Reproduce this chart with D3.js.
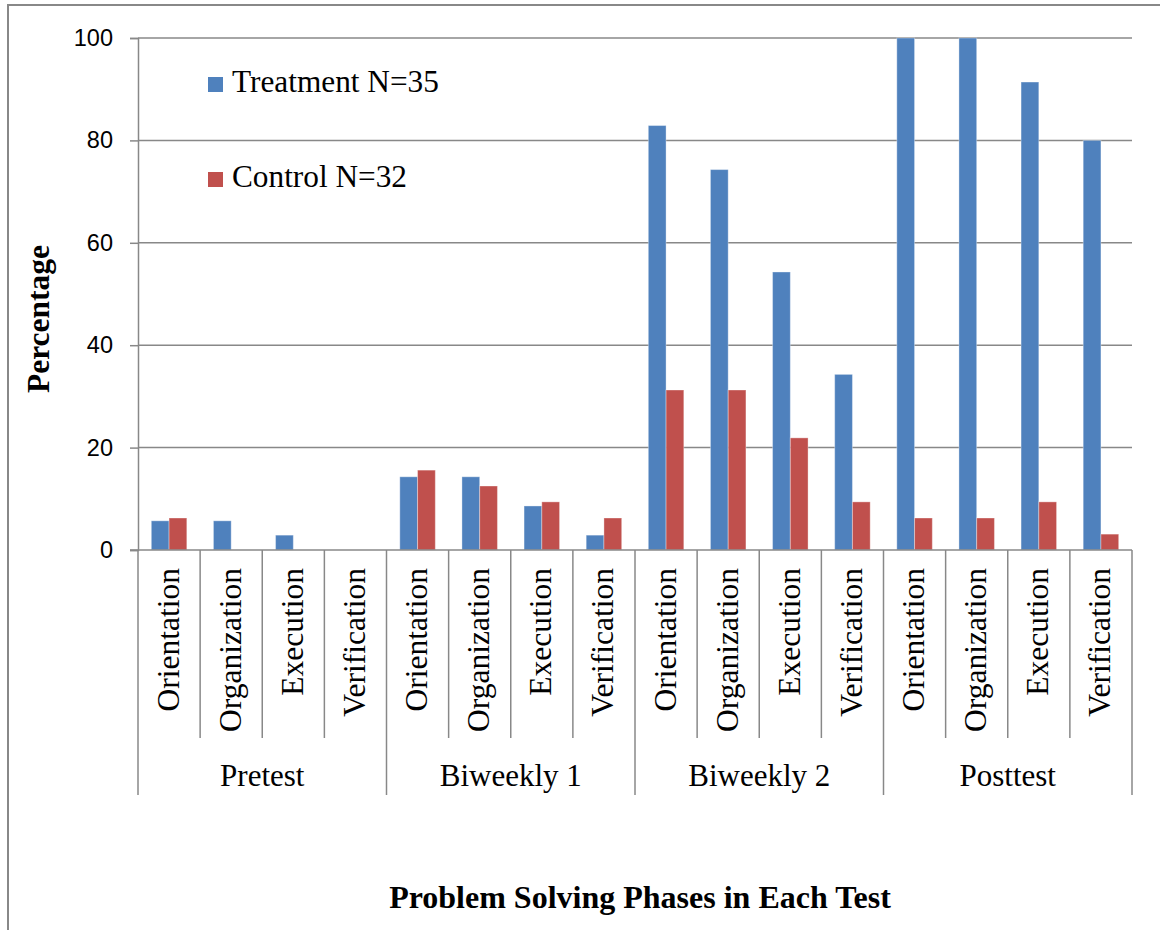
<!DOCTYPE html>
<html>
<head>
<meta charset="utf-8">
<script src="https://cdn.jsdelivr.net/npm/d3@7/dist/d3.min.js"></script>
<style>
  html, body { margin: 0; padding: 0; background: #fff; }
  svg { display: block; }
</style>
</head>
<body>
<svg id="chart" width="1160" height="930"></svg>
<script>
// Test sessions and the problem solving phases scored in each
const tests = ["Pretest", "Biweekly 1", "Biweekly 2", "Posttest"];
const phases = ["Orientation", "Organization", "Execution", "Verification"];
const seriesNames = ["Treatment N=35", "Control N=32"];

// Percentage of students per phase, in test order (4 phases per test)
const treatment = [5.7, 5.7, 2.9, 0, 14.3, 14.3, 8.6, 2.9, 82.9, 74.3, 54.3, 34.3, 100, 100, 91.4, 80];
const control = [6.25, 0, 0, 0, 15.6, 12.5, 9.4, 6.25, 31.25, 31.25, 21.9, 9.4, 6.25, 6.25, 9.4, 3.1];

const yTicks = [0, 20, 40, 60, 80, 100];
const colors = ["#4F81BD", "#C0504D"];

const svg = d3.select("#chart");
const plot = { left: 138, right: 1132, top: 38, bottom: 550 };
const catLineEnd = 738, groupLineEnd = 795;
const gridColor = "#888888";
const serif = "'Liberation Serif', 'Times New Roman', serif";
const sans = "'Liberation Sans', Arial, sans-serif";

// One band per test/phase pair
const rows = [];
tests.forEach((t, gi) => phases.forEach((p, pi) => {
  const i = gi * phases.length + pi;
  rows.push({ key: t + "|" + p, test: t, phase: p, values: [treatment[i], control[i]] });
}));

const x = d3.scaleBand().domain(rows.map(d => d.key)).range([plot.left, plot.right]).paddingInner(0).paddingOuter(0);
const xs = d3.scaleBand().domain(d3.range(seriesNames.length)).range([0, x.bandwidth()])
  .paddingInner(0).paddingOuter(0.75);
const y = d3.scaleLinear().domain([0, 100]).range([plot.bottom, plot.top]);

// Outer chart frame
svg.append("path").attr("d", "M8,930 L8,5 L1160,5")
  .attr("fill", "none").attr("stroke", gridColor).attr("stroke-width", 2);

// Horizontal gridlines
svg.append("g").selectAll("line").data(yTicks.filter(v => v > 0)).join("line")
  .attr("x1", plot.left).attr("x2", plot.right)
  .attr("y1", d => y(d)).attr("y2", d => y(d))
  .attr("stroke", gridColor).attr("stroke-width", 1.5);

// Y axis
const yAxis = svg.append("g").attr("transform", `translate(${plot.left},0)`)
  .call(d3.axisLeft(y).tickValues(yTicks).tickSize(8).tickPadding(17).tickFormat(d3.format("d")));
yAxis.select(".domain").attr("stroke", gridColor).attr("stroke-width", 1.5);
yAxis.selectAll(".tick line").attr("stroke", gridColor).attr("stroke-width", 1.5);
yAxis.selectAll(".tick text").attr("font-family", sans).attr("font-size", 23.5).attr("fill", "#000");

// Bars
svg.append("g").selectAll("g").data(rows).join("g")
  .attr("transform", d => `translate(${x(d.key)},0)`)
  .selectAll("rect").data(d => d.values.map((v, s) => ({ v, s }))).join("rect")
  .attr("x", d => xs(d.s)).attr("width", xs.bandwidth())
  .attr("y", d => y(d.v)).attr("height", d => y(0) - y(d.v))
  .attr("fill", d => colors[d.s])
  .attr("stroke", "rgba(255,255,255,0.35)").attr("stroke-width", 1);

// X axis baseline
svg.append("line").attr("x1", plot.left - 8).attr("x2", plot.right).attr("y1", plot.bottom).attr("y2", plot.bottom)
  .attr("stroke", gridColor).attr("stroke-width", 1.5);

// Category and group separators
const bounds = d3.range(rows.length + 1);
svg.append("g").selectAll("line").data(bounds).join("line")
  .attr("x1", i => plot.left + i * x.step()).attr("x2", i => plot.left + i * x.step())
  .attr("y1", plot.bottom)
  .attr("y2", i => i % phases.length === 0 ? groupLineEnd : catLineEnd)
  .attr("stroke", gridColor).attr("stroke-width", 1.5);

// Phase labels (rotated)
svg.append("g").selectAll("text").data(rows).join("text")
  .attr("transform", d => `translate(${x(d.key) + x.bandwidth() / 2},568) rotate(-90)`)
  .attr("text-anchor", "end").attr("dy", "0.3em")
  .attr("font-family", serif).attr("font-size", 31.5).attr("fill", "#000")
  .text(d => d.phase);

// Test labels
svg.append("g").selectAll("text").data(tests).join("text")
  .attr("x", (t, i) => plot.left + (i * phases.length + phases.length / 2) * x.step())
  .attr("y", 786).attr("text-anchor", "middle")
  .attr("font-family", serif).attr("font-size", 31).attr("fill", "#000")
  .text(t => t);

// Axis titles
svg.append("text").attr("x", 640).attr("y", 908).attr("text-anchor", "middle")
  .attr("font-family", serif).attr("font-size", 32).attr("font-weight", "bold")
  .text("Problem Solving Phases in Each Test");
svg.append("text").attr("transform", "translate(49,319) rotate(-90)").attr("text-anchor", "middle")
  .attr("font-family", serif).attr("font-size", 31.5).attr("font-weight", "bold")
  .text("Percentage");

// Legend
const legend = svg.append("g").selectAll("g").data(seriesNames).join("g")
  .attr("transform", (d, i) => `translate(208,${77 + i * 95})`);
legend.append("rect").attr("width", 15).attr("height", 15).attr("fill", (d, i) => colors[i]);
legend.append("text").attr("x", 24).attr("y", 15)
  .attr("font-family", serif).attr("font-size", 31.3).attr("fill", "#000")
  .text(d => d);
</script>
</body>
</html>
